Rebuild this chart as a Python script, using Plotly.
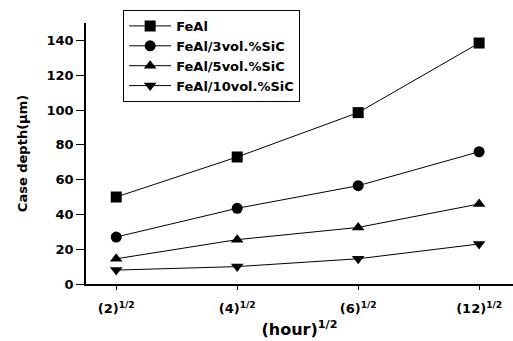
import plotly.graph_objects as go

categories = ["(2)<sup>1/2</sup>", "(4)<sup>1/2</sup>", "(6)<sup>1/2</sup>", "(12)<sup>1/2</sup>"]
series_names = ["FeAl", "FeAl/3vol.%SiC", "FeAl/5vol.%SiC", "FeAl/10vol.%SiC"]
feal = [50, 73, 98.5, 138.5]
feal_3sic = [27, 43.5, 56.5, 76]
feal_5sic = [14.5, 25.5, 32.5, 46]
feal_10sic = [8, 10, 14.5, 23]
symbols = ["square", "circle", "triangle-up", "triangle-down"]

FONT = "DejaVu Sans, Arial"
x_idx = list(range(len(categories)))
fig = go.Figure()
for name, vals, sym in zip(series_names, [feal, feal_3sic, feal_5sic, feal_10sic], symbols):
    fig.add_trace(go.Scatter(
        x=x_idx, y=vals, name=name, mode="lines+markers",
        line=dict(color="black", width=1),
        marker=dict(symbol=sym, size=11, color="black"),
    ))

fig.update_layout(
    width=513, height=341,
    margin=dict(l=86, r=0, t=23, b=57),
    paper_bgcolor="white", plot_bgcolor="white",
    font=dict(family=FONT, color="black"),
    showlegend=True,
    legend=dict(
        x=0.087, y=1.05, xanchor="left", yanchor="top",
        bordercolor="black", borderwidth=1, bgcolor="white",
        font=dict(size=13, family=FONT, weight="bold"),
        tracegroupgap=0, itemwidth=42,
    ),
    xaxis=dict(
        range=[-0.25, 3.28], tickvals=x_idx, ticktext=categories,
        showline=True, linecolor="black", linewidth=1.5,
        ticks="outside", ticklen=4, tickcolor="black",
        ticklabelstandoff=8,
        showgrid=False, zeroline=False,
        tickfont=dict(size=13, weight="bold"),
        title=dict(text="(hour)<sup>1/2</sup>", font=dict(size=16, weight="bold"), standoff=8),
    ),
    yaxis=dict(
        range=[0, 150], tickvals=[0, 20, 40, 60, 80, 100, 120, 140],
        showline=True, linecolor="black", linewidth=1.5,
        ticks="outside", ticklen=8, tickcolor="black",
        ticklabelstandoff=0,
        showgrid=False, zeroline=False,
        tickfont=dict(size=13, weight="bold"),
        title=dict(text="Case depth(μm)", font=dict(size=13, weight="bold"), standoff=16),
    ),
)

fig.write_html("out.html")
